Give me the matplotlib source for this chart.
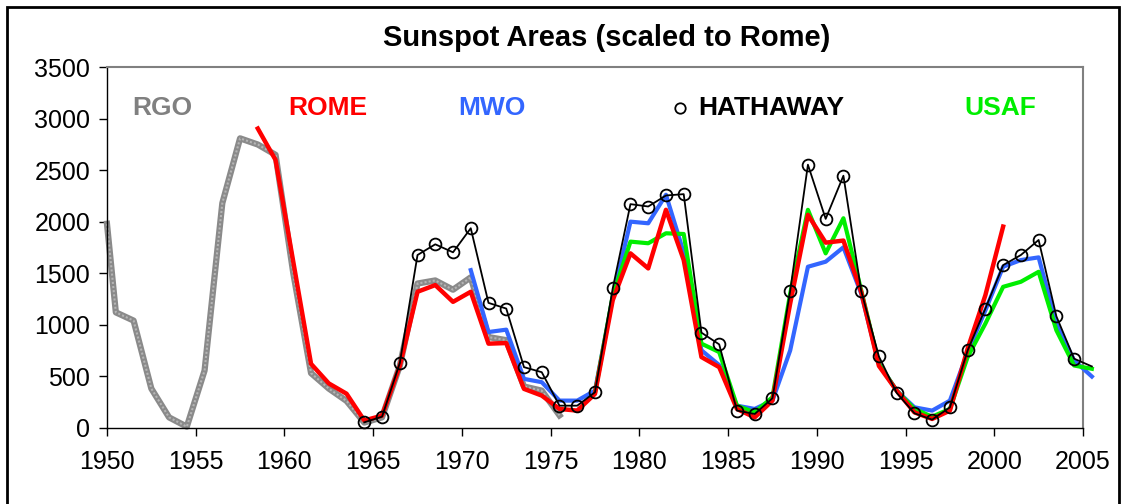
import matplotlib.pyplot as plt
from matplotlib.patches import Rectangle

plt.rcParams['font.family'] = ['Liberation Sans', 'DejaVu Sans']

# yearly means, plotted at mid-year
rgo_years = [1950.0] + [y + 0.5 for y in range(1950, 1976)]
rgo = [1980, 1120, 1040, 380, 100, 10, 555, 2180, 2810, 2750, 2650, 1500, 530,
       380, 260, 50, 100, 600, 1400, 1430, 1340, 1460, 880, 850, 400, 360, 120]

rome_years = [y + 0.5 for y in range(1958, 2001)]
rome = [2905, 2600, 1610, 620, 430, 330, 70, 117, 600, 1320, 1385, 1222, 1320,
        816, 822, 377, 312, 182, 166, 328, 1238, 1693, 1547, 2116, 1628, 686,
        588, 182, 100, 263, 1206, 2067, 1797, 1817, 1319, 600, 360, 149, 85,
        166, 767, 1287, 1953]

mwo_years = [y + 0.5 for y in range(1970, 2006)]
mwo = [1530, 929, 952, 474, 442, 263, 263, 360, 1265, 2001, 1985, 2262, 1700,
       752, 608, 214, 182, 263, 750, 1563, 1612, 1752, 1303, 620, 360, 198,
       166, 263, 734, 1140, 1563, 1628, 1654, 1011, 653, 497]

usaf_years = [y + 0.5 for y in range(1977, 2006)]
usaf = [340, 1280, 1807, 1791, 1888, 1881, 816, 734, 214, 149, 296, 1303, 2116,
        1693, 2034, 1336, 620, 360, 182, 107, 182, 686, 1011, 1368, 1417, 1514,
        946, 604, 572]

hath_years = [y + 0.5 for y in range(1964, 2006)]
hathaway = [52, 107, 627, 1677, 1781, 1703, 1937, 1212, 1157, 588, 539, 214,
            214, 344, 1352, 2171, 2148, 2255, 2268, 923, 809, 166, 133, 286,
            1329, 2554, 2028, 2447, 1329, 692, 338, 140, 78, 198, 751, 1157,
            1579, 1677, 1823, 1082, 670, 595]

fig = plt.figure(figsize=(11.26, 5.04), dpi=100)
ax = fig.add_axes([0.095, 0.1514, 0.8668, 0.7151])

# RGO drawn as a textured grey band
ax.plot(rgo_years, rgo, color='#8a8a8a', lw=4.5, clip_on=False, zorder=2)
ax.plot(rgo_years, rgo, color='#b5b5b5', lw=1.5, ls=(0, (1, 1)), clip_on=False, zorder=2)
ax.plot(mwo_years, mwo, color='#3366FF', lw=3, clip_on=False, zorder=3)
ax.plot(usaf_years, usaf, color='#00EE00', lw=3, clip_on=False, zorder=4)
ax.plot(rome_years, rome, color='#FF0000', lw=3.2, clip_on=False, zorder=5)
ax.plot(hath_years, hathaway, color='black', lw=1.3, marker='o', ms=8.5,
        mfc='none', mec='black', mew=1.3, markevery=list(range(len(hath_years) - 1)),
        clip_on=False, zorder=6)

# series labels
lab_y = 3100
fs = 19
ax.text(1951.4, lab_y, 'RGO', color='#808080', fontsize=fs, fontweight='bold', va='center')
ax.text(1960.2, lab_y, 'ROME', color='#FF0000', fontsize=fs, fontweight='bold', va='center')
ax.text(1969.8, lab_y, 'MWO', color='#3366FF', fontsize=fs, fontweight='bold', va='center')
ax.plot([1982.3], [lab_y], 'o', ms=7.5, mfc='none', mec='black', mew=1.3)
ax.text(1983.3, lab_y, 'HATHAWAY', color='black', fontsize=fs, fontweight='bold', va='center')
ax.text(1998.3, lab_y, 'USAF', color='#00EE00', fontsize=fs, fontweight='bold', va='center')

ax.set_xlim(1950, 2005)
ax.set_ylim(0, 3500)
ax.set_xticks(range(1950, 2006, 5))
ax.set_yticks(range(0, 3501, 500))
ax.tick_params(labelsize=18, length=6, width=1, direction='out')
ax.tick_params(axis='x', pad=10)
ax.tick_params(axis='y', pad=6)
for s in ['top', 'right']:
    ax.spines[s].set_color('#808080')
    ax.spines[s].set_linewidth(1.5)
for s in ['left', 'bottom']:
    ax.spines[s].set_color('black')
    ax.spines[s].set_linewidth(1)

fig.text(0.539, 0.925, 'Sunspot Areas (scaled to Rome)', ha='center', va='center',
         fontsize=21, fontweight='bold')

fig.patches.append(Rectangle((7 / 1126, -0.1), 1112 / 1126, 1.1 - 7 / 504,
                             transform=fig.transFigure, fill=False,
                             edgecolor='black', lw=2))

plt.savefig('out.png', dpi=100)
